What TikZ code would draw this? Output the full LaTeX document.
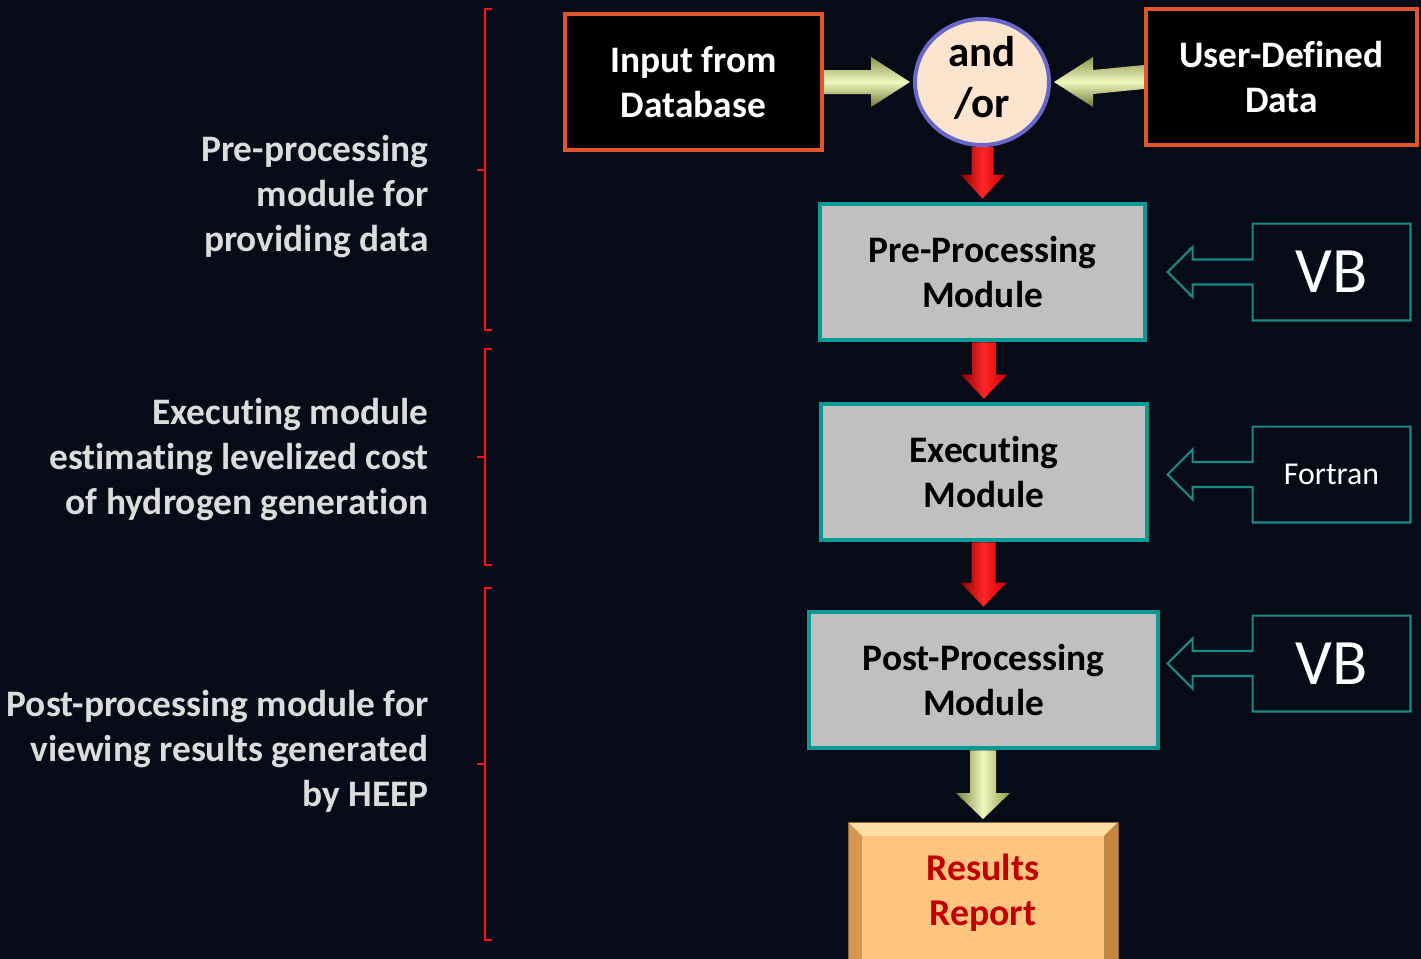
\documentclass[tikz,border=0pt]{standalone}
\usepackage{fontspec}
\setmainfont[Ligatures=NoCommon]{Carlito}
\usetikzlibrary{calc,shapes.geometric}
\definecolor{bgc}{HTML}{070B18}
\definecolor{orng}{HTML}{E0562A}
\definecolor{tealb}{HTML}{0A9A96}
\definecolor{grayf}{HTML}{C0C0C0}
\definecolor{circf}{HTML}{FCE4CF}
\definecolor{circd}{HTML}{6868C8}
\definecolor{vbteal}{HTML}{178A85}
\definecolor{lefttxt}{HTML}{DCDCDC}
\definecolor{redtxt}{HTML}{C00000}
\definecolor{brk}{HTML}{FF1010}
\definecolor{resout}{HTML}{E8A860}
\definecolor{restop}{HTML}{FFDEA5}
\definecolor{resleft}{HTML}{D69650}
\definecolor{resright}{HTML}{C48642}
\definecolor{resin}{HTML}{FFC57F}
\definecolor{resline}{HTML}{8C693C}
\definecolor{ylA}{HTML}{78823C}
\definecolor{ylB}{HTML}{8C964B}
\definecolor{ylC}{HTML}{F0F8BE}
\definecolor{ylD}{HTML}{6E7832}
\newcommand\dnblk[6]{%
  \path (#2) coordinate (tmpT);
  \path (#1 -| tmpT) coordinate (tmpS);
  \shade[#6] ($(tmpS)+(-#3,0)$) -- ($(tmpT)+(-#3,-#5)$) -- ($(tmpT)+(-#4,-#5)$) -- (tmpT)
    -- ($(tmpT)+(#4,-#5)$) -- ($(tmpT)+(#3,-#5)$) -- ($(tmpS)+(#3,0)$) -- cycle;
}
\begin{document}
\begin{tikzpicture}[x=0.5pt,y=-0.5pt,
  darkbox/.style={draw=orng,line width=2pt,fill=black,text=white,font=\fontsize{18.7pt}{22.5pt}\selectfont\bfseries,align=center,inner sep=0pt},
  modbox/.style={draw=tealb,line width=2.3pt,fill=grayf,text=black,font=\fontsize{18.7pt}{22.5pt}\selectfont\bfseries,align=center,inner sep=0pt,minimum height=68pt},
  sidetxt/.style={text=lefttxt,font=\fontsize{18.7pt}{22.5pt}\selectfont\bfseries,align=right,anchor=east,inner sep=0pt},
  callout/.style={draw=vbteal,line width=1.1pt},
  redarr/.style={left color=red!55!black,right color=red!80!black,middle color=red!85!white},
  yelarr/.style={left color=ylA,right color=ylB,middle color=ylC},
  yelarrh/.style={top color=ylB,bottom color=ylD,middle color=ylC},
  brack/.style={draw=brk,line width=1pt}
]
\useasboundingbox (0,0) rectangle (1421,959);
\fill[bgc] (0,0) rectangle (1421,959);

% left descriptions
\node[sidetxt] (d1) at (429,197) {Pre-processing\\module for\\providing data};
\node[sidetxt] (d2) at (429,460) {Executing module\\estimating levelized cost\\of hydrogen generation};
\node[sidetxt] (d3) at (429,751) {Post-processing module for\\viewing results generated\\by HEEP};

% brackets
\draw[brack] (492,9) -- (485,9) -- (485,330) -- (492,330);
\draw[brack] (477,170) -- (485,170);
\draw[brack] (492,349) -- (485,349) -- (485,565) -- (492,565);
\draw[brack] (477,457) -- (485,457);
\draw[brack] (492,588) -- (485,588) -- (485,940) -- (492,940);
\draw[brack] (477,764) -- (485,764);

% top boxes
\node[darkbox,minimum width=128.5pt,minimum height=68pt] (inp) at (693.5,82) {Input from\\Database};
\node[darkbox,minimum width=135.5pt,minimum height=68pt] (usr) at (1281.5,77) {User-Defined\\Data};
\node[draw=circd,line width=2pt,fill=circf,ellipse,minimum width=67pt,minimum height=63pt,inner sep=0pt] (andor) at (982,82) {};
\node[font=\fontsize{21.5pt}{25.5pt}\selectfont\bfseries,align=center,text=black,inner sep=0pt] (andort) at (982,78) {and\\/or};

% modules
\node[modbox,minimum width=162.5pt] (pre) at (982.5,272) {Pre-Processing\\Module};
\node[modbox,minimum width=163pt] (exe) at (984,472) {Executing\\Module};
\node[modbox,minimum width=174.5pt] (post) at (983.5,680) {Post-Processing\\Module};

% results report (bevelled)
\fill[resout] (848,822) rectangle (1118,970);
\fill[restop] (848,822) -- (1118,822) -- (1104,836) -- (862,836) -- cycle;
\fill[resleft] (848,822) -- (862,836) -- (862,970) -- (848,970) -- cycle;
\fill[resright] (1118,822) -- (1104,836) -- (1104,970) -- (1118,970) -- cycle;
\fill[resin] (862,836) rectangle (1104,970);
\draw[resline,line width=0.5pt] (848,970) -- (848,822) -- (1118,822) -- (1118,970);
\node[text=redtxt,font=\fontsize{18.9pt}{22.5pt}\selectfont\bfseries,align=center,inner sep=0pt] (res) at (983,893) {Results\\Report};
\coordinate (restopc) at (983,819);

% yellow horizontal arrows
\shade[yelarrh] ($(inp.east)+(0,-12)$) -- ($(andor.west)+(-42,-12)$) -- ($(andor.west)+(-42,-25)$) -- ($(andor.west)+(-3,0)$)
  -- ($(andor.west)+(-42,25)$) -- ($(andor.west)+(-42,12)$) -- ($(inp.east)+(0,12)$) -- cycle;
\shade[yelarrh] ($(usr.west)+(0,-12)$) -- ($(andor.east)+(42,-12)$) -- ($(andor.east)+(42,-25)$) -- ($(andor.east)+(3,0)$)
  -- ($(andor.east)+(42,25)$) -- ($(andor.east)+(42,12)$) -- ($(usr.west)+(0,12)$) -- cycle;

% vertical arrows
\dnblk{andor.south}{$(pre.north)+(0,-3)$}{11}{22}{24}{redarr}
\dnblk{pre.south}{$(exe.north)+(0,-3)$}{12}{23}{24}{redarr}
\dnblk{exe.south}{$(post.north)+(0,-3)$}{12}{23}{24}{redarr}
\dnblk{post.south}{restopc}{13}{27}{26}{yelarr}

% language callouts
\node[text=white,font=\fontsize{32.4pt}{32pt}\selectfont,minimum width=78.5pt,minimum height=48pt,inner sep=0pt] (vb1) at (1331.5,272) {VB};
\node[text=white,font=\fontsize{15.9pt}{16pt}\selectfont,minimum width=78.5pt,minimum height=47.5pt,inner sep=0pt] (ftn) at (1331.5,474.5) {Fortran};
\node[text=white,font=\fontsize{32.4pt}{32pt}\selectfont,minimum width=78.5pt,minimum height=47.5pt,inner sep=0pt] (vb2) at (1331.5,663.5) {VB};
\foreach \n in {vb1,ftn,vb2}{
  \draw[callout] ($(\n.west)+(0,-12.5)$) -- (\n.north west) -- (\n.north east) -- (\n.south east) -- (\n.south west)
    -- ($(\n.west)+(0,12.5)$) -- ($(\n.west)+(-60,12.5)$) -- ($(\n.west)+(-60,25)$) -- ($(\n.west)+(-85,0)$)
    -- ($(\n.west)+(-60,-25)$) -- ($(\n.west)+(-60,-12.5)$) -- cycle;
}
\end{tikzpicture}
\end{document}
